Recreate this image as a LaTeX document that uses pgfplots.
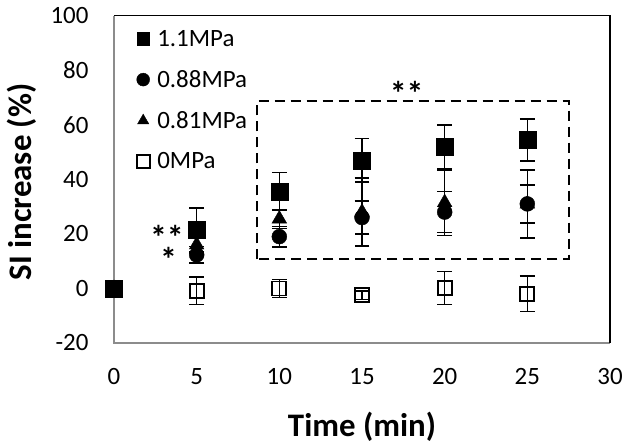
\documentclass[border=0pt]{standalone}
\usepackage{pgfplots}
\pgfplotsset{compat=1.18}
\usepackage{fontspec}
\setmainfont{Carlito}
\begin{document}
\begin{tikzpicture}
\begin{axis}[
  name=ax,
  scale only axis,
  width=496bp, height=327.3bp,
  xmin=0, xmax=30, ymin=-20, ymax=100,
  xtick={0,5,...,30}, ytick={-20,0,...,100},
  major tick length=0pt,
  axis line style={draw=none},
  clip=false,
  /pgf/number format/assume math mode=true,
  xticklabel={\fontsize{25}{30}\selectfont\pgfmathprintnumber{\tick}},
  yticklabel={\fontsize{25}{30}\selectfont\pgfmathprintnumber{\tick}},
  yticklabel style={xshift=-22bp},
  xticklabel style={yshift=-22bp},
  xlabel={\textbf{Time (min)}},
  ylabel={\textbf{SI increase (\%)}},
  label style={font=\fontsize{33}{38}\selectfont},
  xlabel style={at={(axis description cs:0.5,0)}, anchor=center, yshift=-84bp},
  ylabel style={at={(axis description cs:-0.1855,0.492)}, anchor=center},
  legend style={draw=none, fill=none, font=\fontsize{25}{30}\selectfont,
    at={(rel axis cs:0.044,0.962)}, anchor=north west, row sep=18.5bp,
    legend cell align=left, inner sep=0pt, nodes={inner xsep=0pt, inner ysep=2bp}},
  legend image code/.code={\draw[#1,mark size=6.5pt] plot coordinates {(7pt,0pt)}; \path (0pt,0pt) (21pt,0pt);},
  error bars/error bar style={line width=1.5pt, black},
  error bars/error mark options={rotate=90, mark size=7.5pt, line width=1.5pt, black},
]
\draw[black!45, line width=1.3pt] (rel axis cs:0,1) -- (rel axis cs:0,0) -- (rel axis cs:1,0);
\draw[black, line width=1.3pt] (rel axis cs:0,1) -- (rel axis cs:1,1) -- (rel axis cs:1,0);
\draw[black, line width=2pt, dash pattern=on 10bp off 6bp] (axis cs:8.65,10.7) rectangle (axis cs:27.5,68.8);

\addplot[only marks, mark=square*, mark size=8.5pt, black,
  error bars/.cd, y dir=both, y explicit]
  table[x=x, y=y, y error=e] {
x y e
0 0 0
5 21.5 8
10 35.5 7
15 47 8
20 52 8
25 54.5 7.7
};
\addlegendentry{1.1MPa}
\addplot[only marks, mark=*, mark size=7.5pt, black,
  error bars/.cd, y dir=both, y explicit]
  table[x=x, y=y, y error=e] {
x y e
0 0 0
5 12.3 3
10 19 3.8
15 26 6
20 28 7.5
25 31 12.5
};
\addlegendentry{0.88MPa}
\addplot[only marks, mark=triangle*, mark size=8.5pt, black,
  error bars/.cd, y dir=both, y explicit]
  table[x=x, y=y, y error=e] {
x y e
0 0 0
5 16 3
10 25.5 3.5
15 28 12.5
20 31.5 12
25 31 7
};
\addlegendentry{0.81MPa}
\addplot[only marks, mark=square, mark size=7pt, black, mark options={line width=1.8pt},
  error bars/.cd, y dir=both, y explicit]
  table[x=x, y=y, y error=e] {
x y e
0 0 0
5 -0.8 5
10 0 3.3
15 -2.5 1.5
20 0.2 6
25 -2 6.5
};
\addlegendentry{0MPa}

\node[font=\fontsize{34}{40}\selectfont\bfseries, inner sep=0pt, yshift=-7bp] at (axis cs:3.2,21.2) {**};
\node[font=\fontsize{34}{40}\selectfont\bfseries, inner sep=0pt, yshift=-7bp] at (axis cs:3.3,13.4) {*};
\node[font=\fontsize{34}{40}\selectfont\bfseries, inner sep=0pt, yshift=-7bp] at (axis cs:17.7,74) {**};
\end{axis}
\pgfresetboundingbox
\path[use as bounding box] ([xshift=-114bp,yshift=-105bp]ax.south west) rectangle ([xshift=20bp,yshift=15.7bp]ax.north east);
\end{tikzpicture}
\end{document}
